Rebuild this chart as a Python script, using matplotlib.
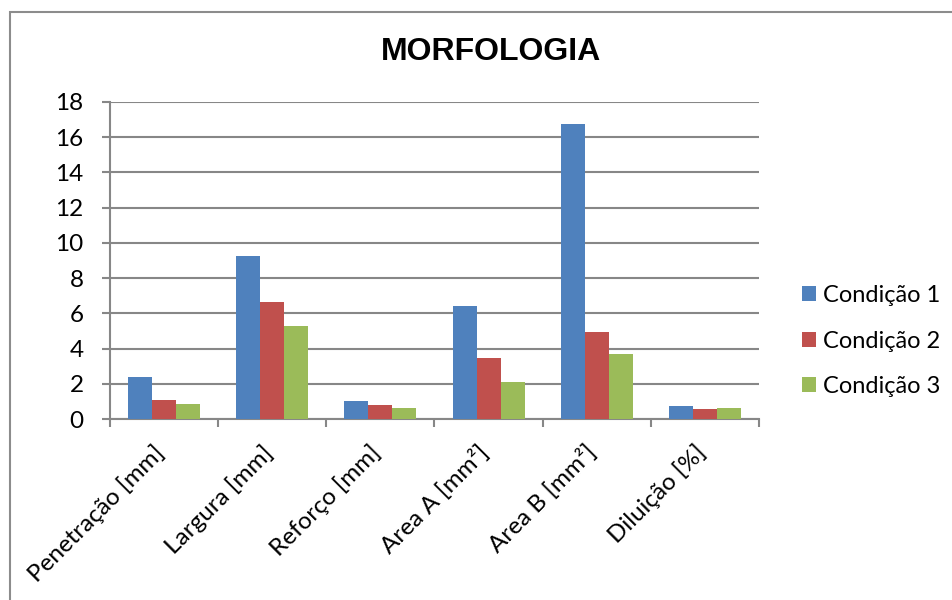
import matplotlib
matplotlib.use("Agg")
import matplotlib.pyplot as plt
import numpy as np
from matplotlib.patches import Rectangle, Patch

categories = ["Penetração [mm]", "Largura [mm]", "Reforço [mm]",
              "Area A [mm²]", "Area B [mm²]", "Diluição [%]"]
series_names = ["Condição 1", "Condição 2", "Condição 3"]
cond1 = [2.37, 9.27, 1.02, 6.42, 16.75, 0.72]
cond2 = [1.08, 6.66, 0.79, 3.46, 4.94, 0.57]
cond3 = [0.87, 5.26, 0.60, 2.08, 3.67, 0.62]
yticks = [0, 2, 4, 6, 8, 10, 12, 14, 16, 18]

colors = ["#4F81BD", "#C0504D", "#9BBB59"]
grid_col = "#878787"
font = ["Lato", "DejaVu Sans"]

W, H = 952, 600
fig = plt.figure(figsize=(W / 100, H / 100), dpi=100)
fig.patch.set_facecolor("white")

# chart frame
fig.patches.append(Rectangle((9.5 / W, -0.1), 1.2, 1.1 - 12.5 / H,
                             transform=fig.transFigure, fill=False,
                             edgecolor="#8c8c8c", linewidth=1.5))

x0, x1, ytop, ybot = 110, 759, 102, 419
ax = fig.add_axes([x0 / W, (H - ybot) / H, (x1 - x0) / W, (ybot - ytop) / H])

n = len(categories)
x = np.arange(n)
bw = 1 / 4.5
for i, vals in enumerate([cond1, cond2, cond3]):
    ax.bar(x + (i - 1) * bw, vals, width=bw, color=colors[i],
           edgecolor="none", zorder=3)

ax.set_xlim(-0.5, n - 0.5)
ax.set_ylim(0, 18)
ax.set_yticks(yticks)
ax.set_yticklabels([str(v) for v in yticks], fontsize=17.5, family=font)
ax.yaxis.grid(True, color=grid_col, linewidth=1.5, zorder=0)
ax.set_axisbelow(True)

for s in ["top", "right"]:
    ax.spines[s].set_visible(False)
for s in ["left", "bottom"]:
    ax.spines[s].set_color(grid_col)
    ax.spines[s].set_linewidth(1.5)

ax.tick_params(axis="y", length=6, width=1.5, color=grid_col, pad=13)
ax.set_xticks(np.arange(-0.5, n, 1.0))
ax.set_xticklabels([])
ax.tick_params(axis="x", length=6, width=1.5, color=grid_col)

for xi, lab in zip(x, categories):
    ax.annotate(lab, xy=(xi, 0), xycoords=("data", "axes fraction"),
                xytext=(-8, -16), textcoords="offset points",
                rotation=45, ha="right", va="top", rotation_mode="anchor",
                fontsize=17.5, family=font)

fig.text(491 / W, 1 - 52 / H, "MORFOLOGIA", ha="center", va="center",
         fontsize=23, fontweight="bold", family="Liberation Sans")

handles = [Patch(facecolor=c, edgecolor="none") for c in colors]
leg = fig.legend(handles, series_names, loc="center left",
                 bbox_to_anchor=(802 / W, 1 - 341 / H), frameon=False,
                 prop={"family": font, "size": 17},
                 handlelength=0.6, handleheight=0.6, handletextpad=0.3,
                 labelspacing=1.05, borderaxespad=0, borderpad=0)

fig.savefig("out.png", dpi=100)
